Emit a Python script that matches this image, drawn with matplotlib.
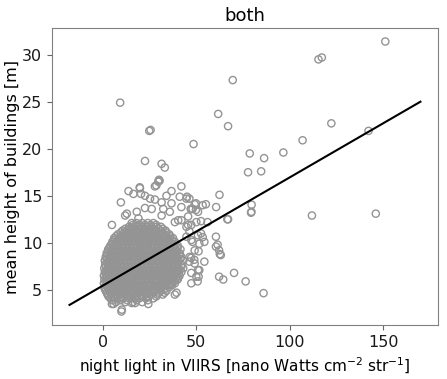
import numpy as np
import matplotlib
matplotlib.use("Agg")
import matplotlib.pyplot as plt

# scattered points (night light, mean height)
outer_x = [151.2, 115.4, 117.2, 69.5, 61.7, 67.0, 122.3, 142.2, 106.9, 78.6,
           86.3, 96.6, 77.7, 84.7, 62.4, 60.6, 53.4, 55.1, 79.6, 79.5,
           79.3, 111.9, 146.1, 9.2, 24.8, 25.5, 48.5, 22.5, 31.4, 33.1,
           30.0, 29.6, 27.8, 19.8, 42.0, 13.7, 16.3, 20.4, 22.5, 36.7,
           34.0, 45.0, 9.6, 25.2, 27.8, 31.4, 36.7, 41.1, 44.7, 49.1,
           47.0, 50.9, 4.8, 12.8, 18.1, 19.0, 15.4, 26.1, 31.4, 35.8,
           40.3, 45.6, 50.0, 50.9, 11.9, 22.5, 32.3, 42.0, 47.3, 45.6,
           38.5, 42.0, 44.7, 47.3, 44.7, 47.3, 49.1, 46.4, 49.1, 50.9,
           47.3, 50.0, 46.3, 48.0, 49.8, 67.0, 52.5, 56.0, 46.3, 52.5,
           53.4, 54.3, 48.0, 51.6, 60.5, 61.4, 60.5, 62.2, 62.6, 51.2,
           47.2, 48.9, 46.3, 54.3, 51.6, 51.2, 50.7, 62.2, 64.4, 70.2,
           76.4, 86.0, 49.8, 36.7, 39.4, 23.4, 5.7, 10.1, 17.2, 4.8,
           24.3, 15.4, 38.5, 35.8, 40.3, 47.3, 9.9, 19.7, 28.6, 30.3,
           63.1, 66.6]
outer_y = [31.4, 29.5, 29.7, 27.3, 23.7, 22.4, 22.7, 21.9, 20.9, 19.5,
           19.0, 19.6, 17.5, 17.6, 15.1, 13.8, 14.0, 14.1, 14.05, 13.3,
           13.2, 12.9, 13.1, 24.9, 21.9, 22.0, 20.5, 18.7, 18.4, 18.0,
           16.7, 16.5, 16.0, 15.8, 16.0, 15.5, 15.2, 15.2, 15.0, 15.5,
           15.0, 14.9, 14.3, 14.7, 14.6, 14.3, 14.2, 14.9, 14.7, 14.1,
           13.6, 13.3, 11.9, 13.1, 13.3, 12.6, 12.1, 13.6, 12.9, 13.3,
           12.4, 11.9, 12.2, 10.8, 12.9, 13.7, 13.6, 13.8, 13.6, 12.8,
           12.2, 12.4, 11.7, 11.9, 10.65, 10.3, 9.2, 8.5, 7.8, 7.1,
           6.8, 6.4, 14.7, 13.6, 13.5, 12.5, 12.3, 12.2, 11.2, 11.0,
           10.6, 10.1, 10.1, 9.9, 10.65, 9.8, 9.6, 9.2, 8.8, 9.1,
           8.4, 8.2, 8.0, 8.0, 7.1, 6.4, 5.9, 6.4, 6.1, 6.8,
           5.9, 4.65, 14.2, 5.7, 4.7, 4.3, 3.5, 2.9, 3.6, 3.5,
           3.5, 3.6, 4.5, 5.6, 6.3, 5.7, 2.7, 15.9, 16.1, 16.6,
           8.7, 12.5]

# dense core of the cloud, one row of x values per height level
core_levels = [3.7, 4.1, 4.5, 4.9, 5.3, 5.7, 6.1, 6.5, 6.9, 7.3, 7.7,
               8.1, 8.5, 8.9, 9.3, 9.7, 10.1, 10.5, 10.9, 11.3, 11.7, 12.1]
core_rows = [
    [7, 12, 16, 21],
    [4, 6.5, 9, 11, 14, 17, 19.5, 23, 27],
    [2.5, 4.5, 7, 9, 11.5, 13.5, 16, 18, 20.5, 23, 25.5, 29, 32],
    [1.5, 3.5, 5.5, 8, 10, 12, 14.5, 16.5, 19, 21, 23.5, 26, 28, 31, 34],
    [0.8, 2.5, 4.5, 6.5, 9, 11, 13, 15.5, 17.5, 20, 22, 24.5, 27, 29.5, 32, 35.5],
    [0.5, 2, 4, 6, 8, 10, 12.5, 14.5, 16.5, 19, 21, 23.5, 25.5, 28, 30.5, 33, 36, 38.5],
    [0.8, 2.8, 5, 7, 9, 11.5, 13.5, 15.5, 18, 20, 22.5, 24.5, 27, 29, 31.5, 34, 37, 40],
    [0.5, 2, 4, 6, 8, 10, 12, 14.5, 16.5, 19, 21, 23, 25.5, 28, 30, 32.5, 35, 38, 41],
    [1, 3, 5, 7, 9, 11, 13.5, 15.5, 17.5, 20, 22, 24.5, 26.5, 29, 31, 33.5, 36, 39, 42],
    [0.7, 2.5, 4.5, 6.5, 8.5, 10.5, 12.5, 14.5, 17, 19, 21, 23.5, 25.5, 28, 30, 32.5, 35, 37.5, 40.5, 43],
    [1.2, 3, 5, 7.5, 9.5, 11.5, 13.5, 16, 18, 20, 22.5, 24.5, 27, 29, 31.5, 34, 36.5, 39, 42],
    [1, 2.8, 4.5, 6.5, 8.5, 10.5, 12.5, 15, 17, 19, 21.5, 23.5, 26, 28, 30.5, 33, 35.5, 38, 40.5, 43],
    [1.5, 3.5, 5.5, 7.5, 9.5, 11.5, 14, 16, 18, 20.5, 22.5, 25, 27, 29.5, 32, 34.5, 37, 39.5, 42],
    [2, 4, 6, 8, 10, 12.5, 14.5, 16.5, 19, 21, 23.5, 25.5, 28, 30.5, 33, 35.5, 38, 41],
    [2.8, 5, 7, 9, 11, 13, 15.5, 17.5, 20, 22, 24.5, 26.5, 29, 31.5, 34, 36.5, 39, 41.5],
    [4, 6, 8, 10, 12, 14.5, 16.5, 18.5, 21, 23, 25.5, 27.5, 30, 32.5, 35, 37.5, 40],
    [5, 7, 9, 11, 13, 15, 17.5, 19.5, 22, 24, 26.5, 28.5, 31, 33.5, 36, 38.5],
    [6, 8.5, 10.5, 12.5, 14.5, 16.5, 18.5, 21, 23, 25.5, 27.5, 30, 32.5, 35, 37.5],
    [8, 10.5, 12.5, 14.5, 16.5, 19, 21, 23.5, 25.5, 28, 30, 32.5, 35.5],
    [10.5, 13, 15, 17.5, 19.5, 22, 24, 26.5, 28.5, 31, 33.5],
    [14, 16.5, 19, 21, 23.5, 26, 28.5, 31],
    [18, 21, 24, 27],
]

# in-between rows of the core
mid_levels = [3.9, 4.3, 4.7, 5.1, 5.5, 5.9, 6.3, 6.7, 7.1, 7.5, 7.9,
              8.3, 8.7, 9.1, 9.5, 9.9, 10.3, 10.7, 11.1, 11.5, 11.9]
mid_rows = [
    [5, 9.5, 13, 18, 24],
    [3, 5.5, 8, 10, 12.5, 15, 18, 21, 24.5, 28.5],
    [2, 4, 6, 8.5, 10.5, 12.5, 15, 17, 19.5, 22, 24.5, 27, 30, 33],
    [1, 3, 5, 7, 9.5, 11.5, 13.5, 16, 18, 20.5, 22.5, 25, 27.5, 30, 33],
    [1.5, 3.5, 5.5, 7.5, 10, 12, 14, 16.5, 18.5, 21, 23, 25.5, 28, 31, 34, 37],
    [1.5, 3.5, 6, 8, 10.5, 13, 15, 17.5, 20, 22, 24.5, 27, 29.5, 32, 35, 38],
    [1.5, 3.5, 6, 8, 10.5, 12.5, 14.5, 17, 19, 21.5, 23.5, 26, 28, 30.5, 33, 36, 39],
    [1.5, 3.5, 5.5, 7.5, 9.5, 12, 14, 16.5, 18.5, 20.5, 23, 25, 27.5, 30, 32, 34.5, 37.5, 40.5],
    [2, 4, 6, 8, 10, 12, 14.5, 16.5, 18.5, 21, 23, 25.5, 27.5, 30, 32.5, 35, 38, 41],
    [1.5, 3.5, 5.5, 7.5, 9.5, 11.5, 13.5, 16, 18, 20, 22.5, 24.5, 27, 29, 31.5, 34, 36.5, 39, 42],
    [2, 4, 6, 8.5, 10.5, 12.5, 14.5, 17, 19, 21, 23.5, 25.5, 28, 30, 32.5, 35, 37.5, 40],
    [2, 3.5, 5.5, 7.5, 9.5, 11.5, 13.5, 16, 18, 20, 22.5, 24.5, 27, 29, 31.5, 34, 36.5, 39, 41.5],
    [2.5, 4.5, 6.5, 8.5, 10.5, 13, 15, 17, 19.5, 21.5, 24, 26, 28.5, 31, 33.5, 36, 38.5, 41],
    [3, 5, 7, 9, 11.5, 13.5, 15.5, 18, 20, 22.5, 24.5, 27, 29.5, 32, 34.5, 37, 39.5],
    [3.5, 6, 8, 10, 12, 14, 16.5, 18.5, 21, 23, 25.5, 27.5, 30, 32.5, 35, 37.5, 40],
    [5, 7, 9, 11, 13, 15.5, 17.5, 19.5, 22, 24, 26.5, 28.5, 31, 33.5, 36, 38.5],
    [6, 8, 10, 12, 14, 16, 18.5, 20.5, 23, 25, 27.5, 29.5, 32, 34.5, 37],
    [7, 9.5, 11.5, 13.5, 15.5, 17.5, 20, 22, 24.5, 26.5, 29, 31, 33.5, 36],
    [9.5, 11.5, 13.5, 16, 18, 20, 22.5, 24.5, 27, 29, 31.5, 34],
    [12, 14.5, 16, 18.5, 20.5, 22.5, 25, 27, 29.5, 32],
    [16, 19.5, 22.5, 25.5, 28.5],
]

# fitted line end points
fit_x = [-17.9, 170.0]
fit_y = [3.4, 25.0]

core_x = [x for row in core_rows + mid_rows for x in row]
core_y = [lev for lev, row in zip(core_levels + mid_levels, core_rows + mid_rows)
          for _ in row]
xs = np.array(outer_x + core_x)
ys = np.array(outer_y + core_y)

plt.rcParams["font.family"] = "DejaVu Sans"
plt.rcParams["font.size"] = 11.5

fig = plt.figure(figsize=(4.47, 3.79), dpi=100)
ax = fig.add_axes([0.1163, 0.1425, 0.8635, 0.7836])

ax.scatter(xs, ys, s=27, facecolors="none", edgecolors="0.58", linewidths=1.0)
ax.plot(fit_x, fit_y, color="black", linewidth=1.5)

ax.set_title("both", fontsize=13, pad=5)
ax.set_xlabel(r"night light in VIIRS [nano Watts cm$^{-2}$ str$^{-1}$]",
              fontsize=11)
ax.set_ylabel("mean height of buildings [m]", labelpad=1)
ax.set_xticks([0, 50, 100, 150])
ax.set_yticks([5, 10, 15, 20, 25, 30])
for sp in ax.spines.values():
    sp.set_color("0.5")
ax.tick_params(color="0.4", labelcolor="0.1")

fig.savefig("out.png", dpi=100)
